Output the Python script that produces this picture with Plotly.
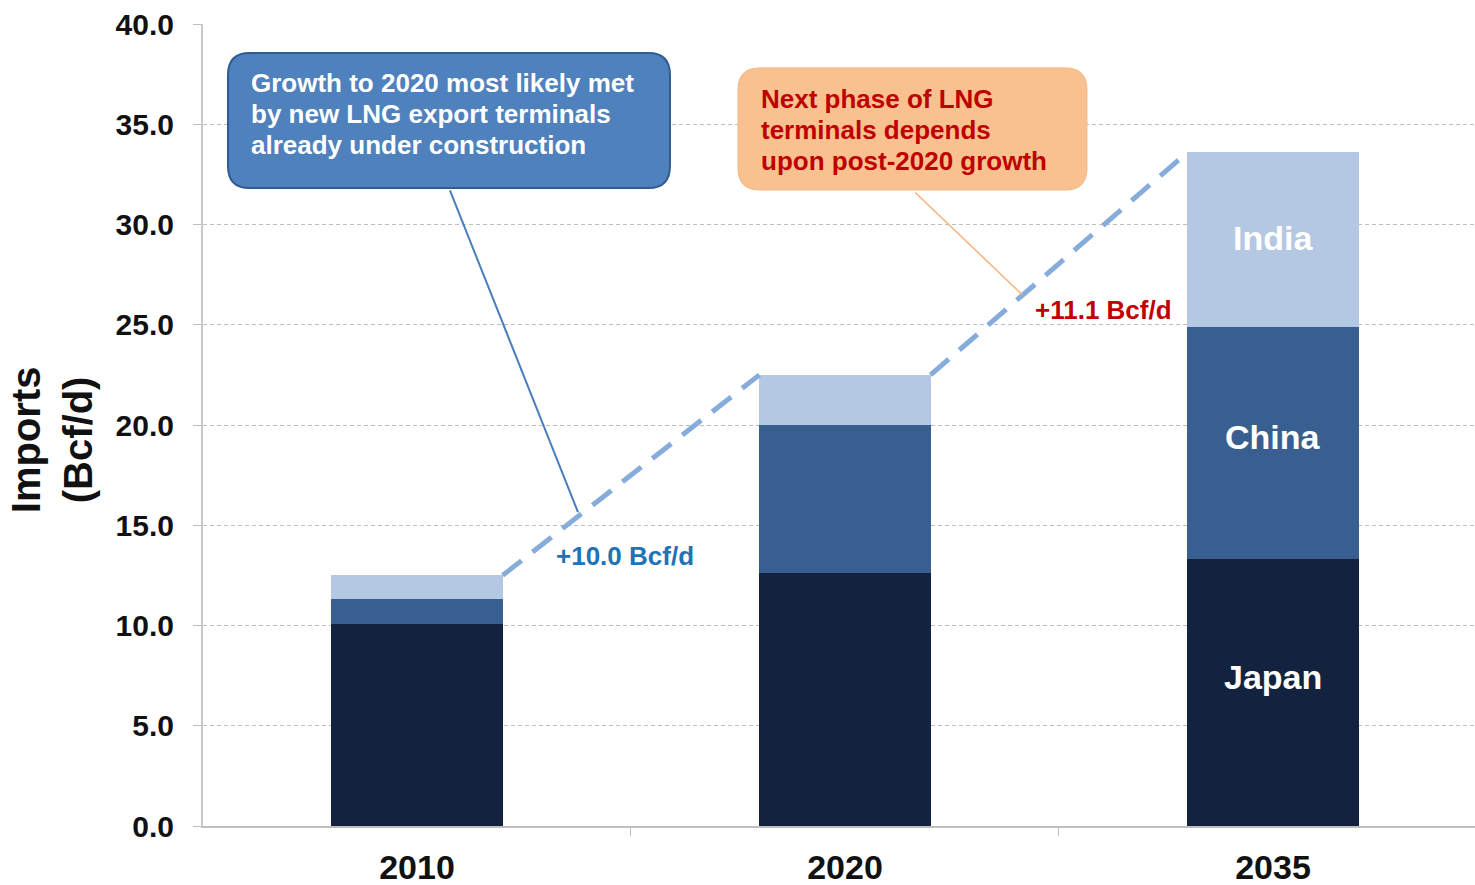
import plotly.graph_objects as go

# LNG import demand by country (Bcf/d)
years = ["2010", "2020", "2035"]
japan = [10.1, 12.6, 13.3]
china = [1.2, 7.4, 11.6]
india = [1.2, 2.5, 8.7]

y_ticks = [0, 5, 10, 15, 20, 25, 30, 35, 40]

JAPAN_C = "#13233F"
CHINA_C = "#395F91"
INDIA_C = "#B4C8E3"
FONT = "Liberation Sans, Arial, sans-serif"

xpos = list(range(len(years)))
totals = [a + b + c for a, b, c in zip(japan, china, india)]

fig = go.Figure()
for name, vals, col in [("Japan", japan, JAPAN_C), ("China", china, CHINA_C), ("India", india, INDIA_C)]:
    fig.add_trace(go.Bar(x=xpos, y=vals, name=name, marker=dict(color=col, line=dict(width=0)),
                         width=0.4, showlegend=False, hoverinfo="skip"))

# dashed growth connectors between bar tops
half = 0.2
fig.add_trace(go.Scatter(
    x=[xpos[0] + half, xpos[1] - half, None, xpos[1] + half, xpos[2] - half],
    y=[totals[0], totals[1], None, totals[1], totals[2]],
    mode="lines", line=dict(color="#85ACDB", width=5, dash="24px,14px"),
    showlegend=False, hoverinfo="skip"))


def rounded_box(x0, x1, y0, y1, rx, ry):
    return (f"M {x0+rx},{y0} L {x1-rx},{y0} Q {x1},{y0} {x1},{y0+ry} "
            f"L {x1},{y1-ry} Q {x1},{y1} {x1-rx},{y1} L {x0+rx},{y1} "
            f"Q {x0},{y1} {x0},{y1-ry} L {x0},{y0+ry} Q {x0},{y0} {x0+rx},{y0} Z")


shapes = [
    # callout pointers
    dict(type="line", xref="x", yref="y", x0=0.077, y0=31.7, x1=0.376, y1=15.66,
         line=dict(color="#4A7EBB", width=2)),
    dict(type="line", xref="x", yref="y", x0=1.164, y0=31.6, x1=1.414, y1=26.5,
         line=dict(color="#F7B27A", width=1.5)),
    # callout boxes
    dict(type="path", xref="x", yref="y", path=rounded_box(-0.4416, 0.5911, 31.82, 38.55, 0.05, 1.1),
         fillcolor="#4F81BD", line=dict(color="#2F5D93", width=2)),
    dict(type="path", xref="x", yref="y", path=rounded_box(0.75, 1.5654, 31.72, 37.81, 0.05, 1.1),
         fillcolor="#F9C090", line=dict(color="#F6B783", width=1)),
]

annotations = []
blue_lines = ["Growth to 2020 most likely met", "by new LNG export terminals", "already under construction"]
for i, t in enumerate(blue_lines):
    annotations.append(dict(x=-0.3925, y=37.08 - i * 1.546, xref="x", yref="y", text=t,
                            xanchor="left", yanchor="middle", showarrow=False,
                            font=dict(family=FONT, size=26, color="white", weight="bold")))
orange_lines = ["Next phase of LNG", "terminals depends", "upon post-2020 growth"]
for i, t in enumerate(orange_lines):
    annotations.append(dict(x=0.80, y=36.28 - i * 1.546, xref="x", yref="y", text=t,
                            xanchor="left", yanchor="middle", showarrow=False,
                            font=dict(family=FONT, size=26, color="#C00000", weight="bold")))

annotations.append(dict(x=0.486, y=13.47, xref="x", yref="y",
                        text=f"+{totals[1] - totals[0]:.1f} Bcf/d", showarrow=False,
                        font=dict(family=FONT, size=26, color="#2272B6", weight="bold")))
annotations.append(dict(x=1.603, y=25.74, xref="x", yref="y",
                        text=f"+{totals[2] - totals[1]:.1f} Bcf/d", showarrow=False,
                        font=dict(family=FONT, size=26, color="#C00000", weight="bold")))

# country names inside the 2035 bar
seg_mid = {
    "Japan": japan[2] / 2,
    "China": japan[2] + china[2] / 2,
    "India": japan[2] + china[2] + india[2] / 2,
}
shift = {"Japan": 16, "China": 6, "India": 2}
for name, ym in seg_mid.items():
    annotations.append(dict(x=xpos[2], y=ym, xref="x", yref="y", text=name, showarrow=False,
                            yshift=shift[name],
                            font=dict(family=FONT, size=34, color="white", weight="bold")))

# y-axis title
annotations.append(dict(x=0, y=0.481, xref="paper", yref="paper", xshift=-151,
                        xanchor="center", yanchor="middle",
                        text="Imports<br>(Bcf/d)", textangle=-90, showarrow=False,
                        font=dict(family=FONT, size=40, color="#111111", weight="bold")))

fig.update_layout(
    width=1475, height=885,
    margin=dict(l=203, r=0, t=24, b=59),
    paper_bgcolor="white", plot_bgcolor="white",
    barmode="stack", bargap=0.6,
    shapes=shapes, annotations=annotations,
    xaxis=dict(
        range=[-0.5, 2.472], tickvals=xpos, ticktext=years, ticks="",
        tickfont=dict(family=FONT, size=34, color="#111111", weight="bold"),
        ticklabelstandoff=10,
        showline=True, linecolor="#BFBFBF", linewidth=2, showgrid=False, zeroline=False,
        minor=dict(tickvals=[0.5, 1.5], ticks="outside", ticklen=8, tickcolor="#BFBFBF", tickwidth=1),
    ),
    yaxis=dict(
        range=[0, 40], tickvals=y_ticks, tickformat=".1f",
        tickfont=dict(family=FONT, size=30, color="#111111", weight="bold"),
        ticks="outside", ticklen=8, tickcolor="#BFBFBF", ticklabelstandoff=13,
        showline=True, linecolor="#C8C8C8", linewidth=2,
        showgrid=True, gridcolor="#BDBDBD", gridwidth=1, griddash="4px,3px",
        zeroline=False,
    ),
)

fig.write_html("out.html")
